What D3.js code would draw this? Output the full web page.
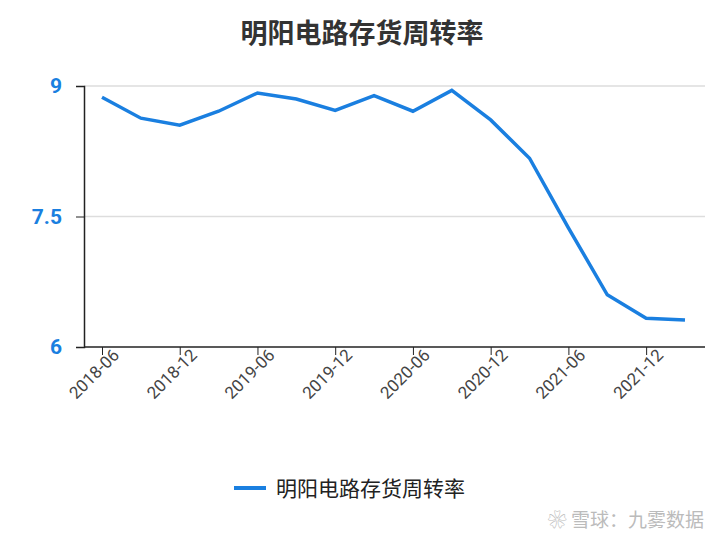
<!DOCTYPE html>
<html><head><meta charset="utf-8">
<script src="https://cdn.jsdelivr.net/npm/d3@7"></script>
<style>body{margin:0;background:#fff;font-family:"Noto Sans CJK SC","Noto Sans",sans-serif}</style>
</head><body><svg id="c" width="724" height="540"></svg>
<script>
const periods = ["2018-06","2018-09","2018-12","2019-03","2019-06","2019-09","2019-12","2020-03","2020-06","2020-09","2020-12","2021-03","2021-06","2021-09","2021-12","2022-03"];
const values = [8.87,8.63,8.55,8.71,8.92,8.85,8.72,8.89,8.71,8.95,8.61,8.17,7.37,6.60,6.33,6.31];
const yTicks = [6,7.5,9];
const tickLabels = ["2018-06","2018-12","2019-06","2019-12","2020-06","2020-12","2021-06","2021-12"];
const title = "明阳电路存货周转率";

const svg = d3.select("#c");
const mLeft = 84, mRight = 705, mTop = 86, mBottom = 347;
const x = d3.scalePoint().domain(periods).range([102, 685]);
const y = d3.scaleLinear().domain([6, 9]).range([mBottom, mTop]);

svg.append("text").attr("x", 362).attr("y", 43).attr("text-anchor", "middle")
  .attr("font-size", 27).attr("font-weight", "bold").attr("fill", "#333").text(title);

svg.append("g").selectAll("line").data(yTicks.filter(d => d > 6)).join("line")
  .attr("x1", mLeft).attr("x2", mRight).attr("y1", y).attr("y2", y)
  .attr("stroke", "#ddd").attr("stroke-width", 1.5);

const ya = svg.append("g").attr("transform", `translate(${mLeft},0)`)
  .call(d3.axisLeft(y).tickValues(yTicks).tickFormat(d3.format("~g")).tickSize(8));
ya.select(".domain").attr("stroke", "#222").attr("stroke-width", 1.5);
ya.selectAll(".tick line").attr("stroke", "#222");
ya.selectAll("text").attr("font-size", 21).attr("font-weight", "bold").attr("fill", "#1a7fe0")
  .attr("font-family", "Roboto,sans-serif").attr("x", -22);

const xa = svg.append("g").attr("transform", `translate(0,${mBottom})`)
  .call(d3.axisBottom(x).tickValues(tickLabels).tickSize(8).tickSizeOuter(0));
xa.select(".domain").attr("d", `M${mLeft},0H${mRight}`).attr("stroke", "#222").attr("stroke-width", 1.5);
xa.selectAll(".tick line").attr("stroke", "#222");
xa.selectAll("text").attr("font-size", 17).attr("fill", "#444").attr("font-family", "Roboto,sans-serif")
  .attr("text-anchor", "end").attr("dx", 6).attr("dy", 8).attr("transform", "rotate(-45)");

svg.append("path").datum(values)
  .attr("d", d3.line().x((d, i) => x(periods[i])).y(d => y(d)))
  .attr("fill", "none").attr("stroke", "#1a7fe0").attr("stroke-width", 3.5);

svg.append("line").attr("x1", 234).attr("x2", 266).attr("y1", 488).attr("y2", 488)
  .attr("stroke", "#1a7fe0").attr("stroke-width", 4);
svg.append("text").attr("x", 276).attr("y", 496).attr("font-size", 21).attr("fill", "#222").text(title);

svg.append("text").attr("x", 704).attr("y", 527).attr("text-anchor", "end")
  .attr("font-size", 19).attr("fill", "#bbb").text("❀ 雪球：九雾数据");
</script></body></html>
